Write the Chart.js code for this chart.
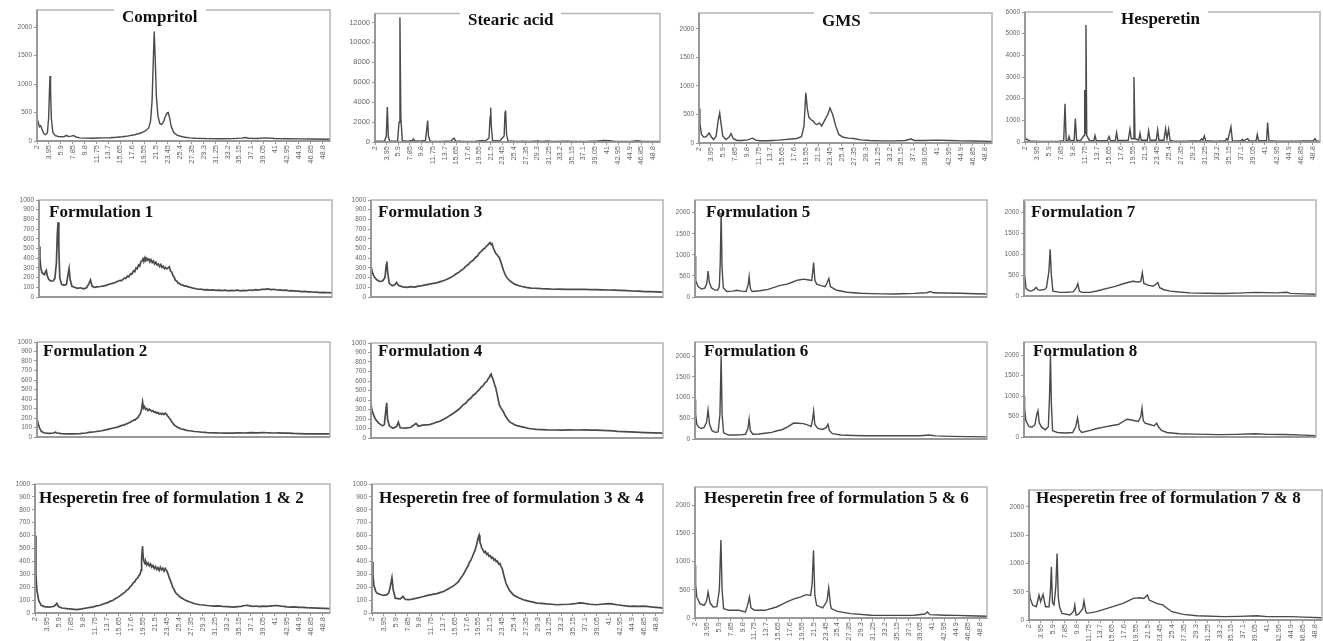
<!DOCTYPE html>
<html>
<head>
<meta charset="utf-8">
<script src="https://cdn.jsdelivr.net/npm/chart.js@4.4.0/dist/chart.umd.min.js"></script>
<style>
  body { margin: 0; background: #fff; width: 1323px; height: 641px; position: relative; overflow: hidden; }
  canvas { position: absolute; }
  .ttl { position: absolute; font: bold 17px "Liberation Serif", "Times New Roman", serif; color: #111; white-space: nowrap; line-height: 18px; }
</style>
</head>
<body>
<script>
// x축 눈금 (2theta)
const xTicks = [2, 3.95, 5.9, 7.85, 9.8, 11.75, 13.7, 15.65, 17.6, 19.55, 21.5, 23.45, 25.4, 27.35, 29.3, 31.25, 33.2, 35.15, 37.1, 39.05, 41, 42.95, 44.9, 46.85, 48.8];
const yTicks1000 = [0, 100, 200, 300, 400, 500, 600, 700, 800, 900, 1000];
const yTicks2000 = [0, 500, 1000, 1500, 2000];
const yTicksStearic = [0, 2000, 4000, 6000, 8000, 10000, 12000];
const yTicksHesp = [0, 1000, 2000, 3000, 4000, 5000, 6000];

// [2theta, intensity]
const compritol = [[2,400],[2.2,330],[2.4,250],[2.6,270],[2.8,210],[3.1,130],[3.4,110],[3.7,140],[3.9,400],[4.05,900],[4.13,1140],[4.22,900],[4.35,400],[4.6,150],[5,95],[5.5,80],[6,75],[6.5,80],[6.8,100],[7.1,80],[7.6,85],[8,95],[8.4,70],[9,55],[10,50],[11,48],[12,52],[13,55],[14,58],[15,65],[16,75],[17,90],[18,110],[19,140],[19.8,180],[20.3,230],[20.6,350],[20.85,700],[21.05,1400],[21.2,1920],[21.35,1500],[21.55,800],[21.8,450],[22.1,310],[22.4,290],[22.7,330],[23,420],[23.3,490],[23.5,500],[23.7,420],[24,250],[24.4,150],[25,100],[26,70],[27,55],[28,48],[30,42],[32,40],[34,42],[35.5,50],[36.1,62],[36.7,48],[38,45],[39.5,55],[41,45],[43,40],[45,38],[47,35],[50,30]];
const stearic = [[2,80],[2.5,70],[3,70],[3.6,80],[3.9,600],[4.08,3500],[4.25,500],[4.5,80],[5,70],[5.8,100],[6.05,2000],[6.2,12500],[6.35,2500],[6.6,120],[7.5,80],[8.3,150],[8.46,300],[8.7,120],[9.5,80],[10.5,150],[10.75,1500],[10.87,2150],[11,600],[11.3,80],[13,60],[14.8,100],[15.3,400],[15.6,100],[17,60],[19,80],[20.1,160],[20.6,100],[21.2,400],[21.38,2500],[21.48,3450],[21.6,1500],[21.8,150],[23,100],[23.75,600],[23.9,3000],[24,3150],[24.15,800],[24.4,100],[26,60],[27,80],[28,60],[29.5,100],[30,60],[31,110],[32,60],[34,70],[36,60],[38,70],[39.5,110],[40.5,160],[41.5,120],[42.5,60],[45,60],[46.2,120],[47,60],[50,50]];
const gms = [[2,600],[2.15,350],[2.4,150],[2.8,100],[3.2,110],[3.64,175],[4,110],[4.4,60],[4.8,120],[5.15,400],[5.39,525],[5.6,350],[5.9,120],[6.4,60],[6.9,100],[7.25,165],[7.6,80],[8.2,45],[9,45],[10,55],[10.76,85],[11.3,50],[12,40],[13,40],[14,45],[15,50],[16,60],[17,70],[18,80],[18.8,110],[19.2,300],[19.5,880],[19.75,600],[20,450],[20.45,400],[20.7,390],[21,340],[21.3,320],[21.7,350],[22.1,300],[22.6,400],[23.1,500],[23.46,615],[23.9,500],[24.4,300],[24.9,150],[25.6,100],[26.5,85],[27.3,80],[28.5,55],[30,45],[32,38],[34,38],[35.8,45],[36.7,70],[37.3,45],[39,45],[41,50],[43,45],[45,38],[47,35],[50,28]];
const hesperetin = [[2,200],[2.3,120],[2.8,50],[4,35],[6,30],[7.5,40],[8.3,60],[8.51,1770],[8.7,80],[9,60],[9.16,250],[9.35,60],[10,80],[10.19,1080],[10.4,80],[11,60],[11.6,300],[11.71,2400],[11.8,400],[11.92,5400],[12.05,300],[12.5,60],[13.2,60],[13.39,300],[13.6,60],[15.4,60],[15.67,250],[15.9,60],[16.7,70],[16.91,430],[17.1,70],[18.8,80],[19.08,600],[19.3,150],[19.6,150],[19.73,3000],[19.9,150],[20.5,80],[20.71,400],[20.9,80],[21.9,80],[22.12,520],[22.35,80],[23.35,80],[23.58,560],[23.8,80],[24.6,80],[24.88,620],[25.1,150],[25.37,580],[25.6,80],[26,50],[28,40],[30.5,60],[30.74,150],[30.95,80],[31.18,280],[31.4,60],[33,40],[34.6,60],[34.81,150],[35,80],[35.51,700],[35.75,60],[37.2,50],[37.36,120],[37.6,50],[38.23,150],[38.5,50],[39.6,60],[39.8,350],[40,60],[41.3,60],[41.48,900],[41.7,60],[43,40],[46,40],[48.9,60],[49.18,150],[49.4,50],[50,40]];

const form1 = [[2,520],[2.15,400],[2.3,300],[2.5,250],[2.7,240],[2.9,230],[3.05,260],[3.2,275],[3.35,220],[3.6,180],[3.9,165],[4.3,165],[4.6,190],[4.85,350],[5,650],[5.12,770],[5.25,500],[5.4,200],[5.7,130],[6.1,120],[6.5,130],[6.75,230],[6.93,295],[7.1,180],[7.4,110],[7.8,100],[8.3,90],[8.8,95],[9.3,85],[9.8,95],[10.2,140],[10.43,175],[10.7,110],[11.1,100],[11.5,105],[12,108],[12.5,112],[13,120],[13.5,132],[14,140],[14.5,150],[15,165],[15.3,172],[15.5,168],[15.8,185],[16,195],[16.2,190],[16.5,215],[16.7,208],[17,240],[17.2,235],[17.5,270],[17.7,262],[17.9,300],[18.1,292],[18.3,330],[18.5,318],[18.7,365],[18.9,372],[19.05,395],[19.2,380],[19.35,405],[19.5,375],[19.65,398],[19.8,380],[20,392],[20.15,362],[20.35,385],[20.55,355],[20.75,372],[20.95,340],[21.15,358],[21.35,330],[21.55,340],[21.75,315],[21.95,335],[22.15,305],[22.35,318],[22.55,292],[22.75,305],[22.95,290],[23.15,300],[23.35,312],[23.55,268],[23.75,255],[23.95,222],[24.15,205],[24.35,172],[24.55,165],[24.8,142],[25,140],[25.2,128],[25.5,125],[25.8,112],[26.1,115],[26.4,104],[26.8,100],[27.2,92],[27.6,88],[28,80],[28.5,82],[29,74],[29.5,76],[30,71],[30.5,74],[31,68],[31.5,71],[32,66],[32.5,70],[33,64],[33.5,68],[34,65],[34.5,70],[35,64],[35.5,68],[36,66],[36.5,72],[37,69],[37.5,75],[38,72],[38.5,80],[39,78],[39.5,84],[40,76],[40.5,80],[41,72],[41.5,74],[42,68],[42.5,70],[43,64],[43.5,65],[44,60],[44.5,61],[45,56],[45.5,58],[46,52],[46.5,54],[47,49],[47.5,50],[48,46],[48.5,48],[49,45],[49.5,46],[50,43]];
const form2 = [[2,190],[2.2,140],[2.4,97],[2.7,60],[3.1,45],[3.6,40],[4.2,38],[4.7,42],[5,50],[5.3,42],[6,36],[7,33],[8,32],[9,35],[10,42],[10.5,48],[11.5,55],[12.6,66],[13.6,80],[14.7,97],[15.2,104],[15.8,120],[16.3,128],[16.9,145],[17.2,152],[17.5,165],[17.7,170],[17.9,182],[18.1,178],[18.3,198],[18.5,200],[18.7,225],[18.9,240],[19.1,280],[19.3,370],[19.45,305],[19.6,320],[19.8,290],[20,300],[20.2,278],[20.4,292],[20.6,282],[20.8,270],[21,278],[21.2,258],[21.4,265],[21.6,250],[21.8,258],[22,242],[22.2,250],[22.4,238],[22.6,248],[22.8,236],[23,250],[23.2,240],[23.4,222],[23.6,205],[23.8,190],[24,168],[24.2,150],[24.4,132],[24.6,120],[24.9,108],[25.1,100],[25.4,92],[25.6,84],[26,80],[26.5,70],[27,66],[27.8,58],[28.4,55],[29,50],[29.5,48],[30,45],[31,44],[32,42],[33,41],[34,40],[35,43],[36,42],[37,45],[38,44],[39,46],[39.7,45],[40.3,43],[41,42],[41.7,43],[42.5,40],[43.2,41],[44,38],[45,36],[46,33],[47,34],[48,32],[49,33],[50,32]];
const form3 = [[2,320],[2.2,260],[2.5,210],[2.9,180],[3.4,160],[3.9,165],[4.3,200],[4.5,330],[4.6,365],[4.75,250],[5,140],[5.5,115],[5.9,125],[6.2,150],[6.5,120],[7.2,105],[8,100],[8.6,106],[9.2,102],[9.8,112],[10.4,118],[11,125],[11.6,132],[12.2,140],[12.8,146],[13.4,158],[14,170],[14.5,182],[15,198],[15.5,215],[16,240],[16.4,252],[16.8,275],[17.2,290],[17.6,318],[18,335],[18.4,362],[18.8,378],[19.2,410],[19.5,422],[19.8,452],[20.1,468],[20.4,490],[20.7,502],[21,525],[21.2,535],[21.4,552],[21.6,562],[21.75,540],[21.9,548],[22.1,505],[22.3,478],[22.5,450],[22.7,438],[22.9,420],[23.1,405],[23.3,370],[23.5,330],[23.8,270],[24.1,225],[24.4,195],[24.8,168],[25.2,150],[25.7,130],[26.2,118],[26.8,108],[27.5,100],[28.3,92],[29,90],[30,86],[31,84],[32,80],[33,82],[34,79],[35,80],[36,78],[37,80],[38,76],[39,77],[40,74],[41,72],[42,70],[43,68],[44,65],[45,62],[46,60],[47,56],[48,55],[49,52],[50,50]];
const form4 = [[2,350],[2.2,280],[2.5,230],[2.8,192],[3.3,154],[3.9,128],[4.2,141],[4.45,300],[4.58,370],[4.72,200],[5,128],[5.6,103],[6.2,120],[6.5,167],[6.8,108],[7.5,103],[8.5,110],[9.4,154],[9.8,123],[10.5,135],[11.1,138],[11.6,141],[12.2,152],[12.7,165],[13.3,176],[13.8,192],[14.4,212],[14.9,235],[15.5,258],[16,282],[16.5,305],[17.1,346],[17.6,368],[18,400],[18.4,418],[18.8,450],[19.2,468],[19.5,492],[19.8,508],[20.1,535],[20.4,548],[20.7,578],[21,592],[21.2,618],[21.4,632],[21.6,660],[21.75,672],[21.9,640],[22.1,612],[22.3,565],[22.5,530],[22.7,472],[22.9,410],[23.1,346],[23.4,312],[23.7,282],[24.1,232],[24.5,192],[24.8,170],[25.2,154],[25.6,140],[26,130],[26.5,122],[27,115],[27.5,108],[28,100],[28.6,95],[29.2,90],[30,88],[31,85],[32,84],[33.5,82],[34.5,85],[36,84],[37,86],[38,82],[39,82],[40,80],[41,78],[41.8,74],[42.5,70],[43.5,67],[44.5,64],[45.5,61],[47,57],[48.5,54],[50,51]];
const form5 = [[2,980],[2.08,600],[2.15,394],[2.5,247],[3.1,188],[3.6,210],[3.9,300],[4.05,450],[4.15,617],[4.35,350],[4.7,218],[5.2,170],[5.7,159],[6,250],[6.15,800],[6.3,2000],[6.45,700],[6.65,218],[7.2,130],[8.2,140],[8.86,159],[9.6,140],[10.4,130],[10.75,300],[10.9,482],[11.1,200],[11.4,130],[12.7,147],[14,180],[15.4,247],[16,276],[17.1,306],[18,350],[18.7,394],[19.3,410],[19.8,423],[20.5,410],[21.2,394],[21.35,600],[21.5,817],[21.7,400],[22,306],[22.7,270],[23.4,247],[23.75,350],[24,441],[24.25,250],[24.6,218],[25.3,159],[27,112],[29.2,88],[31,80],[33,75],[34.6,71],[36,78],[38,85],[40.1,100],[40.7,130],[41.2,100],[43,95],[45.6,88],[48,78],[50,71]];
const form6 = [[2,950],[2.1,600],[2.3,350],[2.6,288],[3,256],[3.5,280],[3.9,400],[4.15,705],[4.4,350],[4.8,200],[5.3,160],[5.8,170],[6.1,600],[6.3,2000],[6.45,600],[6.7,150],[7.5,96],[8.5,96],[9.5,100],[10.3,115],[10.7,250],[10.9,480],[11.1,200],[11.5,115],[12.5,120],[13.5,140],[14.6,160],[15.5,200],[16.3,224],[17.3,300],[18.2,385],[19,380],[19.8,370],[20.5,340],[21.1,300],[21.35,500],[21.5,673],[21.7,350],[22.2,256],[23,230],[23.6,280],[23.85,353],[24.1,200],[24.6,128],[26,96],[28,85],[30,80],[33,77],[36,77],[39,80],[40.5,95],[41.5,75],[44,64],[47,58],[50,51]];
const form7 = [[2,2250],[2.05,1200],[2.15,500],[2.35,176],[2.8,130],[3.2,118],[3.7,160],[4,206],[4.3,150],[4.6,135],[5,150],[5.4,159],[5.7,206],[6.1,600],[6.3,1117],[6.5,500],[6.75,118],[7.9,88],[9,90],[10.1,100],[10.6,200],[10.85,294],[11.1,120],[11.5,88],[12.8,88],[14,120],[15.5,176],[17,230],[18.3,294],[19.2,330],[19.9,353],[20.7,335],[21.2,350],[21.45,559],[21.7,300],[22.4,260],[23.2,235],[23.7,280],[24,323],[24.3,200],[25,150],[26,118],[27.5,95],[29.3,76],[32,65],[34.7,59],[37,70],[40.2,88],[42,80],[43.5,76],[45.2,88],[45.8,62],[48,50],[50,41]];
const form8 = [[2,1000],[2.1,700],[2.3,402],[2.8,260],[3.3,240],[3.8,300],[4.1,550],[4.3,642],[4.5,350],[4.9,240],[5.5,175],[6,250],[6.2,1000],[6.35,2000],[6.5,800],[6.7,150],[7.5,110],[8.8,97],[10,110],[10.5,250],[10.8,467],[11.1,180],[11.5,110],[12.9,160],[14,208],[15.1,240],[16.5,280],[17.5,305],[18.9,435],[19.5,420],[20,402],[20.8,380],[21.2,500],[21.4,707],[21.6,400],[21.9,337],[22.8,300],[23.4,273],[23.8,337],[24.1,250],[24.6,160],[25.5,110],[27.5,78],[30,70],[34,58],[37,65],[40,78],[42,65],[45,60],[48,45],[50,32]];
const free12 = [[2,600],[2.15,300],[2.3,180],[2.6,98],[3,60],[3.5,50],[4.2,46],[5,50],[5.3,60],[5.55,75],[5.8,50],[6.4,39],[7.2,34],[8,30],[8.8,26],[9.6,32],[10.4,39],[11,44],[11.5,48],[12,55],[12.6,60],[13.1,70],[13.7,78],[14.2,90],[14.7,98],[15.1,112],[15.6,125],[16,140],[16.3,150],[16.6,160],[16.9,175],[17.2,185],[17.5,205],[17.7,212],[18,235],[18.2,240],[18.5,265],[18.7,270],[18.9,290],[19.1,300],[19.25,330],[19.35,420],[19.5,518],[19.6,430],[19.75,400],[19.9,380],[20.05,395],[20.2,372],[20.4,388],[20.6,365],[20.8,380],[21,355],[21.2,368],[21.4,345],[21.6,360],[21.8,338],[22,352],[22.2,330],[22.4,355],[22.6,335],[22.8,348],[23,325],[23.2,345],[23.4,330],[23.6,310],[23.8,280],[24,255],[24.2,230],[24.4,200],[24.6,185],[24.8,165],[25,150],[25.3,138],[25.6,124],[26,112],[26.4,100],[26.8,92],[27.2,85],[28,72],[28.8,64],[29.4,62],[30,58],[30.5,56],[31,54],[31.8,55],[32.5,52],[33.3,50],[34.3,46],[35,50],[35.5,52],[36,56],[36.5,60],[37,55],[37.5,52],[38,54],[38.5,50],[39.1,53],[39.7,52],[40.5,55],[41.3,58],[42,54],[42.5,52],[43,48],[43.5,46],[44.2,47],[45,44],[45.6,43],[46.2,41],[47,40],[48,38],[49,36],[50,34]];
const free34 = [[2,397],[2.15,300],[2.3,218],[2.6,170],[2.8,154],[3.3,145],[3.9,136],[4.4,140],[4.74,154],[5,200],[5.29,274],[5.5,180],[5.84,115],[6.3,112],[6.66,110],[7.1,128],[7.5,105],[8.2,103],[8.8,110],[9.4,115],[10,122],[10.5,128],[11,135],[11.6,141],[12.2,146],[12.7,150],[13.3,160],[13.8,167],[14.4,182],[14.9,195],[15.5,212],[16,231],[16.3,245],[16.5,262],[16.8,280],[17,295],[17.3,318],[17.6,346],[17.8,360],[18,385],[18.3,410],[18.5,430],[18.8,465],[19,487],[19.2,520],[19.4,560],[19.55,590],[19.66,603],[19.8,550],[19.95,530],[20.1,505],[20.3,490],[20.5,470],[20.7,478],[20.9,455],[21.1,462],[21.3,440],[21.5,445],[21.7,425],[21.9,432],[22.1,410],[22.3,418],[22.5,398],[22.7,402],[22.9,380],[23.1,385],[23.3,360],[23.5,340],[23.7,300],[23.9,265],[24.1,230],[24.4,200],[24.7,175],[25,158],[25.3,141],[25.7,130],[26.1,120],[26.5,112],[26.96,103],[27.5,96],[28,90],[28.6,84],[29.2,77],[30,74],[30.8,70],[31.6,68],[32.4,64],[33.4,66],[34.5,68],[35.5,72],[36.2,78],[36.8,77],[37.4,72],[38,68],[39,64],[39.8,68],[40.5,70],[41.2,72],[41.8,69],[42.4,64],[43,60],[43.8,55],[44.5,51],[45.2,54],[46,52],[46.7,54],[47.3,51],[48,47],[48.8,44],[49.4,42],[50,38]];
const free56 = [[2,935],[2.1,600],[2.3,373],[2.8,254],[3.5,225],[3.9,300],[4.15,461],[4.5,260],[5,195],[5.6,200],[6,500],[6.26,1379],[6.45,500],[6.7,166],[7.6,136],[9.2,136],[10.3,107],[10.7,250],[10.95,373],[11.2,180],[11.8,136],[13.5,136],[15.4,195],[16.3,240],[17.1,284],[18.3,340],[19.4,373],[20.3,414],[21,400],[21.25,600],[21.48,1201],[21.7,400],[22,225],[23,178],[23.7,300],[23.98,533],[24.25,250],[24.4,166],[25.4,118],[27.6,77],[31,50],[35,47],[38,50],[39.8,70],[40.2,107],[40.6,59],[43,50],[45,47],[47,40],[50,30]];
const free78 = [[2,559],[2.2,382],[2.6,265],[3.2,235],[3.45,350],[3.64,441],[3.9,324],[4.3,453],[4.7,235],[5.28,235],[5.5,500],[5.67,941],[5.85,300],[6.1,265],[6.4,600],[6.6,1176],[6.8,400],[7,235],[7.4,118],[8.7,88],[9.3,150],[9.5,265],[9.7,88],[10.1,100],[10.8,200],[11,335],[11.3,150],[11.5,118],[13.1,147],[15.2,218],[17.4,294],[19.1,382],[20.2,394],[20.8,382],[21.4,441],[21.7,353],[22.9,294],[24,265],[24.3,235],[25.4,147],[27.3,100],[29.5,76],[33.9,59],[36.5,65],[39.3,76],[41,59],[44.8,59],[47,50],[50,41]];

// 패널 배치: box = [left, top, right, bottom] of plot area
const panels = [
  { title: 'Compritol', data: compritol, box: [37, 10, 330, 141], max: 2300, yt: yTicks2000, xl: true, tp: [122, 17], bg: true },
  { title: 'Stearic acid', data: stearic, box: [375, 13, 660, 142], max: 12900, yt: yTicksStearic, xl: true, tp: [468, 20], bg: true, fs: 7.5 },
  { title: 'GMS', data: gms, box: [699, 13, 992, 143], max: 2280, yt: yTicks2000, xl: true, tp: [822, 21], bg: true },
  { title: 'Hesperetin', data: hesperetin, box: [1025, 12, 1320, 142], max: 6000, yt: yTicksHesp, xl: true, tp: [1121, 19], bg: true },
  { title: 'Formulation 1', data: form1, box: [39, 200, 332, 331], max: 1000, yt: yTicks1000, tp: [49, 212], w: 1.7 },
  { title: 'Formulation 3', data: form3, box: [371, 200, 663, 331], max: 1000, yt: yTicks1000, tp: [378, 212], w: 1.7 },
  { title: 'Formulation 5', data: form5, box: [695, 200, 987, 331], max: 2300, yt: yTicks2000, tp: [706, 212] },
  { title: 'Formulation 7', data: form7, box: [1024, 200, 1316, 330], max: 2300, yt: yTicks2000, tp: [1031, 212] },
  { title: 'Formulation 2', data: form2, box: [37, 342, 330, 471], max: 1000, yt: yTicks1000, tp: [43, 351], w: 1.7 },
  { title: 'Formulation 4', data: form4, box: [371, 343, 663, 472], max: 1000, yt: yTicks1000, tp: [378, 351], w: 1.7 },
  { title: 'Formulation 6', data: form6, box: [695, 342, 987, 473], max: 2340, yt: yTicks2000, tp: [704, 351] },
  { title: 'Formulation 8', data: form8, box: [1024, 342, 1316, 471], max: 2320, yt: yTicks2000, tp: [1033, 351] },
  { title: 'Hesperetin free of formulation 1 & 2', data: free12, box: [35, 484, 330, 613], max: 1000, yt: yTicks1000, xl: true, tp: [39, 498], w: 1.7 },
  { title: 'Hesperetin free of formulation 3 & 4', data: free34, box: [372, 484, 663, 613], max: 1000, yt: yTicks1000, xl: true, tp: [379, 498], w: 1.7 },
  { title: 'Hesperetin free of formulation 5 & 6', data: free56, box: [695, 487, 987, 618], max: 2320, yt: yTicks2000, xl: true, tp: [704, 498] },
  { title: 'Hesperetin free of formulation 7 & 8', data: free78, box: [1029, 490, 1322, 620], max: 2300, yt: yTicks2000, xl: true, tp: [1036, 498] }
];

const YW = 32, PAD = 6, XH = 34;

// 플롯 테두리
const frame = {
  id: 'frame',
  afterDatasetsDraw(chart) {
    const { ctx, chartArea: a } = chart;
    ctx.save();
    ctx.lineWidth = 1.5;
    ctx.strokeStyle = '#b4b4b4';
    ctx.strokeRect(a.left, a.top, a.right - a.left, a.bottom - a.top);
    ctx.strokeStyle = '#8c8c8c';
    ctx.beginPath();
    ctx.moveTo(a.left, a.top);
    ctx.lineTo(a.left, a.bottom);
    ctx.lineTo(a.right, a.bottom);
    ctx.stroke();
    ctx.restore();
  }
};

const makePanel = (p) => {
  const [L, T, R, B] = p.box;
  const cv = document.createElement('canvas');
  const w = R - L + YW + PAD;
  const h = B - T + PAD + (p.xl ? XH : PAD);
  cv.width = w; cv.height = h;
  cv.style.left = (L - YW) + 'px';
  cv.style.top = (T - PAD) + 'px';
  document.body.append(cv);

  const fs = p.fs || 6.5;
  new Chart(cv, {
    type: 'line',
    data: {
      datasets: [{
        data: p.data.map(d => ({ x: d[0], y: d[1] })),
        borderColor: '#4a4a4a',
        borderWidth: p.w || 1.4,
        pointRadius: 0,
        tension: 0,
        fill: false
      }]
    },
    options: {
      responsive: false,
      animation: false,
      events: [],
      layout: { padding: { left: 0, top: PAD, right: PAD, bottom: p.xl ? 0 : PAD } },
      plugins: { legend: { display: false }, tooltip: { enabled: false } },
      scales: {
        x: {
          type: 'linear',
          min: 2, max: 50,
          display: !!p.xl,
          afterBuildTicks: s => { s.ticks = xTicks.map(v => ({ value: v })); },
          afterFit: s => { s.height = XH; },
          border: { display: false },
          grid: { drawOnChartArea: false, tickLength: 3, color: '#999' },
          ticks: {
            autoSkip: false, minRotation: 90, maxRotation: 90, padding: 1,
            color: '#666', font: { family: 'Liberation Sans', size: 7.5 },
            callback: v => String(v)
          }
        },
        y: {
          min: 0, max: p.max,
          afterBuildTicks: s => { s.ticks = p.yt.map(v => ({ value: v })); },
          afterFit: s => { s.width = YW; },
          border: { display: false },
          grid: { drawOnChartArea: false, tickLength: 3, color: '#999' },
          ticks: {
            autoSkip: false, padding: 2, color: '#666', font: { family: 'Liberation Sans', size: fs },
            callback: v => String(v)
          }
        }
      }
    },
    plugins: [frame]
  });

  const t = document.createElement('div');
  t.className = 'ttl';
  t.textContent = p.title;
  if (p.bg) {
    t.style.background = '#fff';
    t.style.padding = '0 8px';
    t.style.left = (p.tp[0] - 8) + 'px';
  } else {
    t.style.left = p.tp[0] + 'px';
  }
  t.style.top = (p.tp[1] - 9) + 'px';
  document.body.append(t);
};

document.addEventListener('DOMContentLoaded', () => {
  panels.forEach(makePanel);
});
</script>
</body>
</html>
